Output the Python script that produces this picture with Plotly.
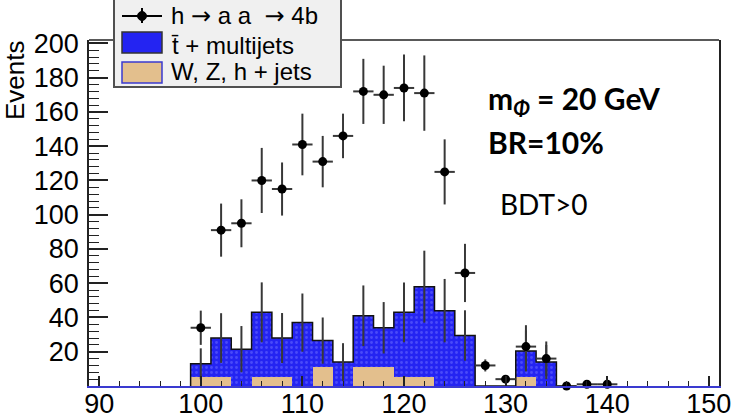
import plotly.graph_objects as go

# ---- data -------------------------------------------------------------
bin_width = 2.0
x_lo, x_hi = 89, 151

# stacked backgrounds, bin centres 100..134
bkg_centers = [100, 102, 104, 106, 108, 110, 112, 114, 116,
               118, 120, 122, 124, 126, 128, 130, 132, 134]
ttbar_multijets = [8, 23, 21.5, 38, 23, 37, 15.5, 14, 30,
                   23, 38, 53, 44, 29.5, 0, 0, 15.5, 14]
wzh_jets = [5, 5, 0, 5, 5, 0, 11, 0, 11,
            11, 5, 5, 0, 0, 0, 0, 5, 0]
bkg_err = [9, 14.5, 13.5, 17.5, 14.6, 17, 13.5, 11, 17.7,
           15, 17.4, 21, 18.5, 14.7, 0, 0, 12, 10]

# signal h -> aa -> 4b
sig_centers = [100, 102, 104, 106, 108, 110, 112, 114, 116, 118, 120,
               122, 124, 126, 128, 130, 132, 134, 136, 138, 140]
sig_values = [34, 91, 95, 120, 115, 141, 131, 146, 172, 170, 174,
              171, 125, 66, 12, 4, 23, 16, 0, 1, 1]
sig_err = [10, 15.5, 14, 19, 15.5, 18, 15, 13, 19, 17, 19.5,
           22, 19, 17, 3.5, 2, 12.5, 10, 0, 1, 1]

y_ticks = [20, 40, 60, 80, 100, 120, 140, 160, 180, 200]
x_ticks = [90, 100, 110, 120, 130, 140, 150]

# ---- geometry helpers (pixel -> paper) -------------------------------
W, H = 731, 419
M_L, M_R, M_T, M_B = 89, 12, 40, 33
PW, PH = W - M_L - M_R, H - M_T - M_B


def px(xp):
    return (xp - M_L) / PW


def py(yp):
    return (H - M_B - yp) / PH


BLUE = "#2424f2"
TAN = "#e3bf8d"
ERRC = "#383838"
TXT = "Liberation Sans, Arial, sans-serif"
ARROW = '<span style="font-family:DejaVu Sans">\u2192</span>'

fig = go.Figure()

# stacked histogram bars
fig.add_trace(go.Bar(
    x=bkg_centers, y=wzh_jets, width=bin_width,
    marker=dict(color=TAN, line=dict(width=0)),
    showlegend=False, hoverinfo="skip"))
fig.add_trace(go.Bar(
    x=bkg_centers, y=ttbar_multijets, width=bin_width,
    marker=dict(color=BLUE, line=dict(width=0),
                pattern=dict(shape=".", fgcolor="#6f6fff", size=5,
                             solidity=0.25, fillmode="overlay")),
    showlegend=False, hoverinfo="skip"))

# outline of the stack total as a step line
totals = [a + b for a, b in zip(ttbar_multijets, wzh_jets)]
edges = [c - bin_width / 2 for c in bkg_centers] + [bkg_centers[-1] + bin_width / 2]
step_x = [edges[0]] + edges
step_y = [0] + totals + [0]
fig.add_trace(go.Scatter(
    x=step_x, y=step_y, mode="lines", line=dict(color="#111111", width=1.5, shape="hv"),
    showlegend=False, hoverinfo="skip"))

# background uncertainties at bin centres
bx = [c for c, t in zip(bkg_centers, totals) if t > 0]
by = [t for t in totals if t > 0]
be = [e for e, t in zip(bkg_err, totals) if t > 0]
fig.add_trace(go.Scatter(
    x=bx, y=by, mode="markers",
    marker=dict(size=1, color="rgba(0,0,0,0)"),
    error_y=dict(type="data", array=be, color=ERRC, thickness=2, width=0),
    showlegend=False, hoverinfo="skip"))

# signal points
fig.add_trace(go.Scatter(
    x=sig_centers, y=sig_values, mode="markers",
    marker=dict(size=9, color="black"),
    error_y=dict(type="data", array=sig_err, color=ERRC, thickness=2, width=0),
    error_x=dict(type="constant", value=bin_width / 2, color=ERRC, thickness=2, width=0),
    cliponaxis=False, showlegend=False, hoverinfo="skip"))

shapes = []
annotations = []

# frame: top edge
shapes.append(dict(type="line", xref="paper", yref="paper", x0=0, x1=1, y0=1, y1=1,
                   line=dict(color="#222222", width=1.5), layer="above"))

# legend box
shapes.append(dict(type="rect", xref="paper", yref="paper",
                   x0=px(114), x1=px(341), y0=py(87), y1=py(-6),
                   fillcolor="#f0f0f0", line=dict(color="#505050", width=2), layer="above"))
# entry 1: marker with error bars
shapes.append(dict(type="line", xref="paper", yref="paper", x0=px(122), x1=px(162),
                   y0=py(16), y1=py(16), line=dict(color="black", width=2), layer="above"))
shapes.append(dict(type="line", xref="paper", yref="paper", x0=px(142), x1=px(142),
                   y0=py(8), y1=py(23), line=dict(color="black", width=2), layer="above"))
shapes.append(dict(type="circle", xref="paper", yref="paper", x0=px(137.5), x1=px(146.5),
                   y0=py(20.5), y1=py(11.5), fillcolor="black",
                   line=dict(color="black", width=1), layer="above"))
# entry 2 and 3: fill boxes
shapes.append(dict(type="rect", xref="paper", yref="paper", x0=px(122), x1=px(162),
                   y0=py(53), y1=py(32), fillcolor=BLUE,
                   line=dict(color="#333333", width=1.5), layer="above"))
shapes.append(dict(type="rect", xref="paper", yref="paper", x0=px(122), x1=px(162),
                   y0=py(83), y1=py(62), fillcolor=TAN,
                   line=dict(color="#3a3ad0", width=1.5), layer="above"))

legend_labels = ["h " + ARROW + " a a  " + ARROW + " 4b", "t\u0304 + multijets", "W, Z, h + jets"]
legend_y = [16, 45, 71]
for lab, ly in zip(legend_labels, legend_y):
    annotations.append(dict(text=lab, xref="paper", yref="paper", x=px(169), y=py(ly),
                            xanchor="left", yanchor="middle", showarrow=False,
                            font=dict(family=TXT, size=24, color="black")))

# physics labels
annotations.append(dict(text="m<sub><i>\u03a6</i></sub> = 20 GeV", xref="paper", yref="paper",
                        x=px(486), y=py(100), xanchor="left", yanchor="middle",
                        showarrow=False, font=dict(family="Lato", size=30, color="black",
                                                   weight="bold")))
annotations.append(dict(text="BR=10%", xref="paper", yref="paper",
                        x=px(486), y=py(142), xanchor="left", yanchor="middle",
                        showarrow=False, font=dict(family="Lato", size=30, color="black",
                                                   weight="bold")))
annotations.append(dict(text="BDT>0", xref="paper", yref="paper",
                        x=px(498), y=py(204), xanchor="left", yanchor="middle",
                        showarrow=False, font=dict(family="Lato", size=28, color="black")))

# y axis title
annotations.append(dict(text="Events", xref="paper", yref="paper",
                        x=px(15), y=py(38), xanchor="center", yanchor="top",
                        textangle=-90, showarrow=False,
                        font=dict(family=TXT, size=26, color="black")))

fig.update_layout(
    width=W, height=H,
    margin=dict(l=M_L, r=M_R, t=M_T, b=M_B, pad=0, autoexpand=False),
    paper_bgcolor="white", plot_bgcolor="white",
    barmode="stack", bargap=0,
    shapes=shapes, annotations=annotations,
    showlegend=False,
    xaxis=dict(range=[x_lo, x_hi], tickmode="array", tickvals=x_ticks,
               automargin=False, ticklabeloverflow="allow",
               ticks="inside", ticklen=10, tickwidth=1.5, tickcolor="#222222",
               minor=dict(tickmode="linear", tick0=90, dtick=2, ticks="inside",
                          ticklen=5, tickwidth=1.2, tickcolor="#222222"),
               showline=True, linecolor="#3a3ad0", linewidth=1.5,
               showgrid=False, zeroline=False, ticklabelstandoff=-7,
               tickfont=dict(family=TXT, size=27, color="black")),
    yaxis=dict(range=[0, 202], tickmode="array", tickvals=y_ticks,
               automargin=False,
               ticks="inside", ticklen=19, tickwidth=1.5, tickcolor="#222222",
               minor=dict(tickmode="linear", tick0=0, dtick=4, ticks="inside",
                          ticklen=10, tickwidth=1.2, tickcolor="#222222"),
               showline=True, linecolor="#222222", linewidth=1.5, mirror=True,
               showgrid=False, zeroline=False, ticklabelstandoff=3,
               tickfont=dict(family=TXT, size=27, color="black")),
)

fig.write_html("out.html")
